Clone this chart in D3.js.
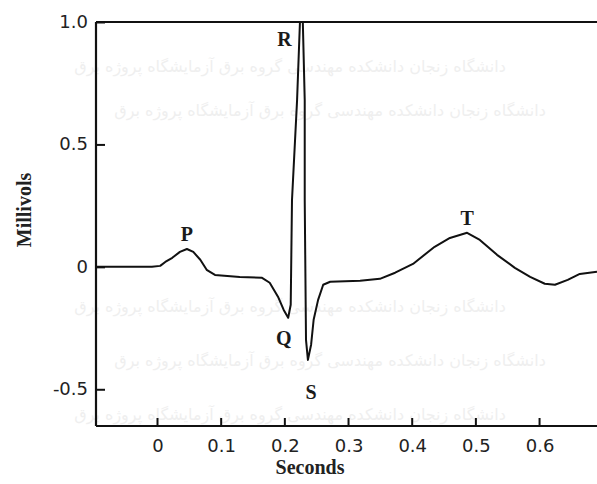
<!DOCTYPE html>
<html>
<head>
<meta charset="utf-8">
<script src="https://cdn.jsdelivr.net/npm/d3@7"></script>
<style>
  body { margin: 0; background: #fff; }
  svg { display: block; }
</style>
</head>
<body>
<div id="chart"></div>
<script>
// ECG trace: time (s) and voltage (mV)
const seconds = [-0.096, -0.008, 0.005, 0.013, 0.024, 0.036, 0.047, 0.057, 0.068, 0.078,
    0.091, 0.130, 0.165, 0.177, 0.190, 0.199, 0.206, 0.210, 0.212, 0.220, 0.2245,
    0.229, 0.232, 0.232, 0.234, 0.237, 0.242, 0.246, 0.253, 0.261, 0.272, 0.319, 0.350,
    0.374, 0.402, 0.436, 0.460, 0.487, 0.507, 0.534, 0.562, 0.586, 0.609, 0.625, 0.645,
    0.664, 0.691];
const millivolts = [0, 0, 0.004, 0.02, 0.037, 0.061, 0.073, 0.061, 0.029, -0.012,
    -0.033, -0.041, -0.045, -0.065, -0.122, -0.176, -0.208, -0.155, 0.273, 0.682, 1.0,
    1.0, 0.68, 0.273, -0.298, -0.38, -0.318, -0.216, -0.135, -0.073, -0.061, -0.057, -0.049,
    -0.024, 0.012, 0.082, 0.118, 0.139, 0.110, 0.049, -0.004, -0.041, -0.069, -0.073, -0.053,
    -0.029, -0.020];

const xTicks = [0, 0.1, 0.2, 0.3, 0.4, 0.5, 0.6];
const yTicks = [-0.5, 0, 0.5, 1.0];
const yTickLabels = ["-0.5", "0", "0.5", "1.0"];

// wave labels and where each one sits (label baseline)
const waveNames = ["P", "Q", "R", "S", "T"];
const waveTimes = [0.047, 0.199, 0.200, 0.242, 0.487];
const waveVolts = [0.105, -0.32, 0.90, -0.54, 0.172];

const watermark = "دانشگاه زنجان دانشکده مهندسی گروه برق آزمایشگاه پروژه برق";

const width = 597, height = 484;

const svg = d3.select("#chart").append("svg")
    .attr("width", width)
    .attr("height", height);

// faint scanned watermark
const wm = svg.append("g").attr("fill", "#efefef")
    .style("font-family", "DejaVu Sans")
    .style("font-size", "16px");
[72, 116, 312, 366, 420].forEach(function(yy, i) {
    wm.append("text")
        .attr("x", i % 2 ? 330 : 290)
        .attr("y", yy)
        .attr("text-anchor", "middle")
        .text(watermark);
});

const x = d3.scaleLinear().domain([-0.0958, 0.691]).range([96, 597]);
const y = d3.scaleLinear().domain([-0.65, 1.0]).range([426, 22]);

// frame: top line, left axis, bottom axis
svg.append("line")
    .attr("x1", x(-0.0958)).attr("x2", width)
    .attr("y1", y(1.0)).attr("y2", y(1.0))
    .attr("stroke", "#111").attr("stroke-width", 2);

const yAxis = svg.append("g")
    .attr("transform", "translate(" + x(-0.0958) + ",0)")
    .call(d3.axisRight(y).tickValues(yTicks).tickSize(9).tickFormat(""));
yAxis.select(".domain").attr("stroke", "#111").attr("stroke-width", 2.2).attr("d", "M0," + y(1.0) + "V" + y(-0.65));
yAxis.selectAll(".tick line").attr("stroke", "#111").attr("stroke-width", 2);

svg.selectAll(".ylab")
    .data(yTicks)
    .enter()
    .append("text")
    .attr("class", "ylab")
    .attr("x", 88)
    .attr("y", function(d) { return y(d) + 6; })
    .attr("text-anchor", "end")
    .style("font-family", "DejaVu Sans")
    .style("font-size", "18px")
    .attr("fill", "#222")
    .text(function(d, i) { return yTickLabels[i]; });

const xAxis = svg.append("g")
    .attr("transform", "translate(0," + y(-0.65) + ")")
    .call(d3.axisTop(x).tickValues(xTicks).tickSize(8).tickFormat(""));
xAxis.select(".domain").attr("stroke", "#111").attr("stroke-width", 2).attr("d", "M" + x(-0.0958) + ",0H" + width);
xAxis.selectAll(".tick line").attr("stroke", "#111").attr("stroke-width", 2);

svg.selectAll(".xlab")
    .data(xTicks)
    .enter()
    .append("text")
    .attr("class", "xlab")
    .attr("x", function(d) { return x(d) + 1; })
    .attr("y", 452)
    .attr("text-anchor", "middle")
    .style("font-family", "DejaVu Sans")
    .style("font-size", "18px")
    .attr("fill", "#222")
    .text(function(d) { return d === 0 ? "0" : d3.format(".1f")(d); });

// axis titles
svg.append("text")
    .attr("transform", "translate(31,210) rotate(-90)")
    .attr("text-anchor", "middle")
    .style("font-family", "Liberation Serif")
    .style("font-size", "20px")
    .style("font-weight", "bold")
    .attr("fill", "#222")
    .text("Millivols");

svg.append("text")
    .attr("x", 310)
    .attr("y", 474)
    .attr("text-anchor", "middle")
    .style("font-family", "Liberation Serif")
    .style("font-size", "20px")
    .style("font-weight", "bold")
    .attr("fill", "#222")
    .text("Seconds");

// the trace
const line = d3.line()
    .x(function(d, i) { return x(seconds[i]); })
    .y(function(d) { return y(d); });

svg.append("path")
    .datum(millivolts)
    .attr("d", line)
    .attr("fill", "none")
    .attr("stroke", "#111")
    .attr("stroke-width", 2)
    .attr("stroke-linejoin", "round");

// wave letters
svg.selectAll(".wave")
    .data(waveNames)
    .enter()
    .append("text")
    .attr("class", "wave")
    .attr("x", function(d, i) { return x(waveTimes[i]); })
    .attr("y", function(d, i) { return y(waveVolts[i]); })
    .attr("text-anchor", "middle")
    .style("font-family", "Liberation Serif")
    .style("font-size", "20px")
    .style("font-weight", "bold")
    .attr("fill", "#1a1a1a")
    .text(function(d) { return d; });
</script>
</body>
</html>
